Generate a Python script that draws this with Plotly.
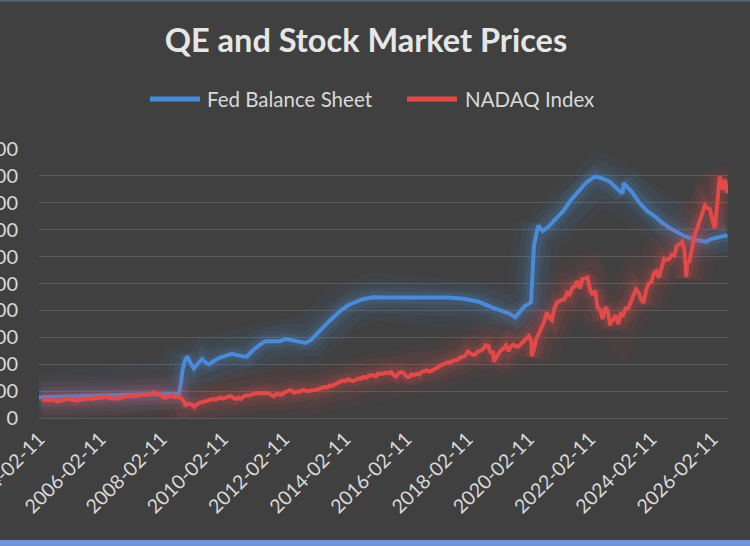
import plotly.graph_objects as go
import pandas as pd

# ---------------- data ----------------
title_text = "QE and Stock Market Prices"
fed_name = "Fed Balance Sheet"
nasdaq_name = "NADAQ Index"

# Fed balance sheet, billions USD (left axis)
fed_dates = [
    "2004-02-11", "2004-08-11", "2005-02-09", "2005-08-10", "2006-02-08", "2006-08-09",
    "2007-02-07", "2007-08-08", "2008-02-06", "2008-09-10", "2008-10-01", "2008-10-22",
    "2008-11-19", "2008-12-17", "2009-01-21", "2009-03-04", "2009-04-15", "2009-06-10",
    "2009-07-29", "2009-09-02", "2009-10-21", "2009-12-30", "2010-03-31", "2010-06-02",
    "2010-09-01", "2010-11-24", "2011-02-02", "2011-04-20", "2011-07-06", "2011-12-28",
    "2012-02-29", "2012-06-27", "2012-10-24", "2013-01-02", "2013-04-03", "2013-08-07",
    "2013-12-25", "2014-03-26", "2014-08-27", "2014-12-31", "2015-06-24", "2015-12-30",
    "2016-06-29", "2016-12-28", "2017-06-28", "2017-12-27", "2018-06-27", "2018-12-26",
    "2019-06-26", "2019-09-04", "2019-10-30", "2019-12-25", "2020-03-11", "2020-03-25",
    "2020-04-15", "2020-06-03", "2020-07-29", "2020-09-30", "2020-12-30", "2021-03-31",
    "2021-06-30", "2021-09-29", "2021-12-29", "2022-04-13", "2022-06-29", "2022-09-28",
    "2022-12-28", "2023-03-08", "2023-03-22", "2023-06-28", "2023-09-27", "2023-12-27",
    "2024-03-27", "2024-06-26", "2024-09-25", "2024-12-25", "2025-03-26", "2025-06-25",
    "2025-09-24", "2025-11-26", "2026-01-28", "2026-04-29", "2026-08-12",
]
fed_values = [
    770, 790, 810, 830, 845, 860,
    870, 880, 880, 905, 1300, 1800,
    2150, 2290, 2050, 1840, 2000, 2190,
    2050, 1990, 2100, 2230, 2330, 2390,
    2320, 2270, 2500, 2700, 2850, 2850,
    2940, 2870, 2790, 2900, 3200, 3600,
    4000, 4200, 4400, 4490, 4480, 4480,
    4470, 4450, 4480, 4430, 4320, 4080,
    3880, 3740, 3950, 4150, 4300, 5300,
    6400, 7150, 6950, 7100, 7400, 7700,
    8100, 8450, 8750, 8980, 8920, 8800,
    8550, 8340, 8730, 8400, 8000, 7700,
    7500, 7250, 7050, 6900, 6750, 6650,
    6600, 6550, 6650, 6720, 6800,
]

# NASDAQ monthly levels, Feb 2004 .. Dec 2025 (right axis)
nasdaq_start = "2004-02-15"
nasdaq_monthly = [
    2030, 1990, 1920, 1990, 2050, 1890, 1840, 1900, 1970, 2100, 2170,
    2060, 2050, 2000, 1920, 2070, 2060, 2180, 2150, 2150, 2120, 2230, 2210,
    2300, 2280, 2340, 2320, 2180, 2170, 2090, 2180, 2260, 2370, 2430, 2420,
    2460, 2420, 2420, 2530, 2600, 2600, 2550, 2600, 2700, 2860, 2660, 2650,
    2390, 2270, 2280, 2410, 2520, 2290, 2330, 2370, 2090, 1720, 1540, 1580,
    1480, 1380, 1530, 1720, 1770, 1830, 1980, 2010, 2120, 2050, 2140, 2270,
    2150, 2240, 2400, 2460, 2260, 2110, 2250, 2110, 2370, 2510, 2500, 2650,
    2700, 2780, 2780, 2870, 2830, 2770, 2760, 2580, 2420, 2680, 2620, 2610,
    2810, 2970, 3090, 3050, 2830, 2940, 2940, 3070, 3120, 2980, 3010, 3020,
    3140, 3160, 3270, 3330, 3460, 3400, 3630, 3590, 3770, 3920, 4060, 4180,
    4100, 4310, 4200, 4110, 4240, 4410, 4370, 4580, 4490, 4630, 4790, 4740,
    4640, 4960, 4900, 4940, 5070, 4990, 5130, 4780, 4620, 5050, 5110, 5010,
    4610, 4560, 4870, 4780, 4950, 4840, 5160, 5210, 5310, 5190, 5320, 5380,
    5610, 5830, 5910, 6050, 6200, 6140, 6350, 6430, 6500, 6730, 6870, 6900,
    7410, 7270, 7060, 7070, 7440, 7510, 7670, 8110, 8050, 7310, 7330, 6640,
    7280, 7530, 7730, 8100, 7450, 8010, 8180, 7960, 7990, 8290, 8670, 8970,
    9150, 8570, 7700, 8890, 9490, 10060, 10750, 11780, 11170, 10910, 12200, 12890,
    13070, 13190, 13250, 13960, 13750, 14500, 14670, 15260, 14450, 15500, 15540, 15650,
    14240, 13750, 14220, 12330, 12080, 11030, 12390, 11820, 10580, 10990, 11470, 10470,
    11580, 11460, 12220, 12230, 12940, 13790, 14350, 14030, 13220, 12850, 14230, 15010,
    15160, 16090, 16380, 15660, 16740, 17730, 17600, 17710, 18190, 18100, 19220, 19310,
    19630, 18850, 17300, 17450, 19110, 20370, 21120, 22000, 22700, 23700, 23400, 23300,
]
# intra-month extremes and the 2026 readings
nasdaq_extra_dates = [
    "2008-11-20", "2009-03-09", "2018-12-24", "2020-03-20", "2022-10-13",
    "2025-04-08", "2026-02-02", "2026-03-14", "2026-04-05", "2026-05-12",
    "2026-06-21", "2026-07-12", "2026-08-08", "2026-08-18",
]
nasdaq_extra_values = [
    1320, 1270, 6300, 6900, 10300,
    15700, 22480, 21180, 23230, 26940,
    25460, 26570, 25090, 25820,
]

x_tick_dates = ["2004-02-11", "2006-02-11", "2008-02-11", "2010-02-11", "2012-02-11",
                "2014-02-11", "2016-02-11", "2018-02-11", "2020-02-11", "2022-02-11",
                "2024-02-11", "2026-02-11"]
x_range = ["2004-02-11", "2026-08-18"]
left_range = [0, 10000]
left_step = 1000
right_range = [0, 30000]
right_step = 3000

# ---------------- build series ----------------
m_dates = pd.date_range(nasdaq_start, periods=len(nasdaq_monthly), freq="MS") + pd.Timedelta(days=14)
ndq = pd.concat([
    pd.Series(nasdaq_monthly, index=m_dates),
    pd.Series(nasdaq_extra_values, index=pd.to_datetime(nasdaq_extra_dates)),
]).sort_index()

BG = "#404040"
TXT = "#d9d9d9"
GRID = "#5a5a5a"
BLUE = "#4a8bd8"
RED = "#e24a4a"
FONT = "Lato"

fig = go.Figure()


def add_series(x, y, color, rgb, name, axis):
    for w, a in [(48, 0.05), (32, 0.07), (20, 0.09), (12, 0.15)]:
        fig.add_trace(go.Scatter(
            x=x, y=y, mode="lines", yaxis=axis, showlegend=False, hoverinfo="skip",
            line=dict(color=f"rgba({rgb},{a})", width=w)))
    fig.add_trace(go.Scatter(
        x=x, y=y, mode="lines", yaxis=axis, name=name, showlegend=False,
        line=dict(color=color, width=4)))


add_series(pd.to_datetime(fed_dates), fed_values, BLUE, "74,139,216", fed_name, "y")
add_series(ndq.index, ndq.values, RED, "226,74,74", nasdaq_name, "y2")

W, H = 750, 546
L, R, T, B = 39, 22, 149, 128
ph = H - T - B
pw = W - L - R


def px(X):
    return (X - L) / pw


def py(Y):
    return (H - B - Y) / ph


# legend drawn as line samples + text
legend_items = [(150, 200, 205, fed_name, BLUE), (407, 457, 463, nasdaq_name, RED)]
shapes = []
annotations = []
LEG_Y = 99
for x0, x1, xt, name, col in legend_items:
    shapes.append(dict(type="line", xref="paper", yref="paper", x0=px(x0), x1=px(x1),
                       y0=py(LEG_Y), y1=py(LEG_Y), line=dict(color=col, width=5)))
    annotations.append(dict(text=name, xref="paper", yref="paper", x=px(xt), y=py(LEG_Y),
                            xanchor="left", yanchor="middle", showarrow=False,
                            font=dict(size=20.5, color=TXT, family=FONT)))

shapes += [
    dict(type="rect", xref="paper", yref="paper",
         x0=px(0), x1=px(W), y0=py(540), y1=py(H + 2),
         fillcolor="#7193d9", line=dict(width=0), layer="above"),
    dict(type="line", xref="paper", yref="paper",
         x0=px(0), x1=px(W), y0=py(0.8), y1=py(0.8),
         line=dict(color="#566480", width=1.6), layer="above"),
]

fig.update_layout(
    width=W, height=H,
    margin=dict(l=L, r=R, t=T, b=B, autoexpand=False),
    paper_bgcolor=BG, plot_bgcolor=BG,
    font=dict(family=FONT, color=TXT),
    showlegend=False,
    title=dict(text="<b>" + title_text + "</b>", x=0.488, xanchor="center",
               y=1 - 41 / H, yanchor="middle", font=dict(size=32.5, color="#e6e6e6", family=FONT)),
    xaxis=dict(type="date", range=x_range, tickvals=x_tick_dates, ticktext=x_tick_dates,
               tickangle=-45, tickfont=dict(size=19.5, color=TXT), showgrid=False,
               zeroline=False, showline=False, ticks="outside", ticklen=1,
               tickcolor=BG, automargin=False, ticklabeloverflow="allow"),
    yaxis=dict(range=left_range, tick0=0, dtick=left_step, tickformat="d",
               gridcolor=GRID, gridwidth=1.3,
               zeroline=True, zerolinecolor=GRID, zerolinewidth=1.3, showline=False,
               ticks="outside", ticklen=16, tickcolor=BG, tickfont=dict(size=20, color=TXT),
               automargin=False, ticklabeloverflow="allow"),
    yaxis2=dict(range=right_range, tick0=0, dtick=right_step, tickformat="d",
                overlaying="y", side="right",
                showgrid=False, zeroline=False, showline=False, ticks="outside", ticklen=17,
                tickcolor=BG, tickfont=dict(size=20, color=TXT), automargin=False,
                ticklabeloverflow="allow"),
    shapes=shapes,
    annotations=annotations,
)

fig.write_html("out.html", config={"displayModeBar": False},
               post_script="document.body.style.margin='0px';document.body.style.overflow='hidden';")
